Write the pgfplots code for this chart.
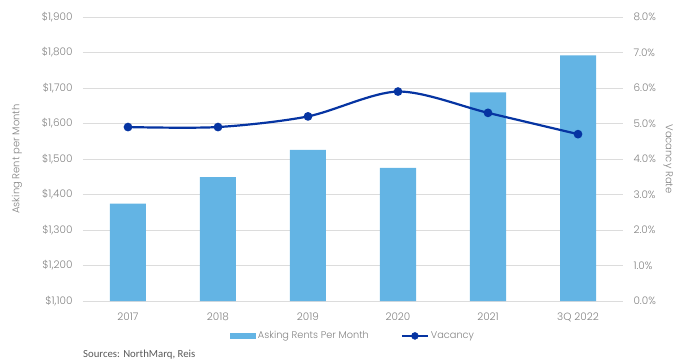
\documentclass[border=0pt]{standalone}
\usepackage{fontspec}
\setmainfont{Poppins}[UprightFont={* Light}]
\newfontfamily\srcfont{Carlito}
\usepackage{pgfplots}
\pgfplotsset{compat=1.18}
\definecolor{barblue}{RGB}{99,180,228}
\definecolor{lineblue}{RGB}{6,52,162}
\definecolor{gridgray}{RGB}{220,220,220}
\definecolor{txtgray}{RGB}{130,130,130}
\definecolor{srcgray}{RGB}{89,89,89}

\pgfplotstableread{
x rent vac
0 1374 4.9
1 1449 4.9
2 1526 5.2
3 1475 5.9
4 1688 5.3
5 1792 4.7
}\datatable

\begin{document}
\begin{tikzpicture}
\begin{axis}[name=main, scale only axis, width=540bp, height=284bp,
  xmin=-0.5, xmax=5.5, ymin=1100, ymax=1900,
  xtick={0,...,5}, xticklabels={2017,2018,2019,2020,2021,3Q 2022},
  ytick={1100,1200,...,1900},
  yticklabels={{\$1,100},{\$1,200},{\$1,300},{\$1,400},{\$1,500},{\$1,600},{\$1,700},{\$1,800},{\$1,900}},
  axis line style={draw=none}, major tick length=0pt,
  ymajorgrids, grid style={gridgray, line width=0.8bp},
  ticklabel style={font=\fontsize{10.5}{12}\selectfont, text=txtgray},
  yticklabel style={xshift=-7bp},
  xticklabel style={yshift=-8bp},
  ylabel={Asking Rent per Month},
  every axis y label/.style={at={(axis description cs:0,0.5)}, xshift=-66bp, rotate=90, anchor=center, font=\fontsize{10}{12}\selectfont, text=txtgray},
  clip=false,
  legend style={at={(axis description cs:0.5,-0.123)}, anchor=center, draw=none, fill=none,
    legend columns=2, font=\fontsize{9.8}{11}\selectfont, text=txtgray,
    /tikz/every even column/.append style={column sep=30bp}},
]
\addplot[ybar, bar width=36bp, fill=barblue, draw=none,
  legend image code/.code={\fill[barblue] (0bp,-3bp) rectangle (26bp,3bp);}]
  table[x=x, y=rent] {\datatable};
\addlegendentry{Asking Rents Per Month}
\addlegendimage{legend image code/.code={\draw[lineblue, line width=2bp] (0bp,0bp) -- (26bp,0bp); \fill[lineblue] (13bp,0bp) circle (3.5bp);}}
\addlegendentry{Vacancy}
\node[anchor=base west, font=\srcfont\fontsize{10.8}{12}\selectfont, text=srcgray, inner sep=0pt] at (axis description cs:0,-0.2) {Sources: NorthMarq, Reis};
\end{axis}
\begin{axis}[at={(main.south west)}, anchor=south west, scale only axis, width=540bp, height=284bp,
  xmin=-0.5, xmax=5.5, ymin=0, ymax=8,
  xtick=\empty, axis line style={draw=none}, major tick length=0pt,
  axis y line*=right,
  ytick={0,...,8},
  yticklabels={0.0\%,1.0\%,2.0\%,3.0\%,4.0\%,5.0\%,6.0\%,7.0\%,8.0\%},
  ticklabel style={font=\fontsize{10.5}{12}\selectfont, text=txtgray},
  yticklabel style={xshift=7bp},
  ylabel={Vacancy Rate},
  every axis y label/.style={at={(axis description cs:1,0.5)}, xshift=45bp, rotate=-90, anchor=center, font=\fontsize{10}{12}\selectfont, text=txtgray},
  clip=false,
]
\addplot[lineblue, line width=2.2bp, smooth, tension=0.5, mark=*, mark size=3.2bp, mark options={fill=lineblue, draw=lineblue}]
  table[x=x, y=vac] {\datatable};
\end{axis}
\pgfresetboundingbox
\path (main.south west) ++(-83bp,-61bp) rectangle ++(683bp,362bp);
\end{tikzpicture}
\end{document}
